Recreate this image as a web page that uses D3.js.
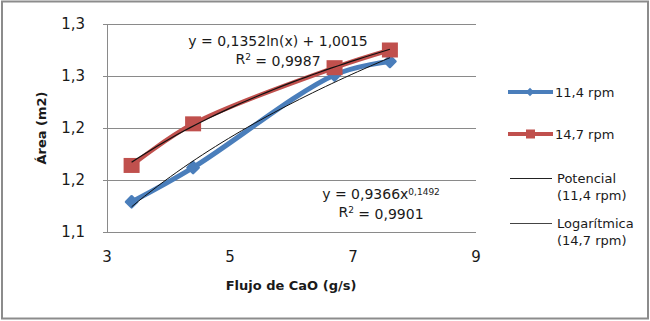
<!DOCTYPE html>
<html>
<head>
<meta charset="utf-8">
<script src="https://cdn.jsdelivr.net/npm/d3@7"></script>
<style>
  body { margin: 0; background: #fff; }
  text { font-family: "DejaVu Sans", sans-serif; fill: #1a1a1a; }
</style>
</head>
<body>
<svg width="650" height="321"></svg>
<script>
// data
let flujo = [3.4, 4.4, 6.7, 7.6];
let area114 = [1.129, 1.162, 1.251, 1.264];
let area147 = [1.164, 1.204, 1.258, 1.275];

let yTicks = [1.1, 1.15, 1.2, 1.25, 1.3];
let yTickLabels = ["1,1", "1,2", "1,2", "1,3", "1,3"];
let xTicks = [3, 5, 7, 9];

// trendline coefficients shown in the chart
let powA = 0.9366, powB = 0.1492;
let logA = 0.1352, logB = 1.0015;

function drawChart() {
  let svg = d3.select("svg");

  let xScale = d3.scaleLinear().domain([3, 9]).range([107, 476]);
  let yScale = d3.scaleLinear().domain([1.1, 1.3]).range([232, 24]);

  // outer frame
  svg.append("rect")
    .attr("x", 2).attr("y", 1.5)
    .attr("width", 646).attr("height", 317)
    .attr("fill", "#fff")
    .attr("stroke", "#8c8c8c")
    .attr("stroke-width", 2);

  // gridlines
  svg.selectAll("line.grid")
    .data(yTicks)
    .join("line")
    .attr("class", "grid")
    .attr("x1", 103).attr("x2", 476)
    .attr("y1", d => Math.round(yScale(d)) + 0.5)
    .attr("y2", d => Math.round(yScale(d)) + 0.5)
    .attr("stroke", "#8a8a8a");

  // axis lines
  svg.append("line")
    .attr("x1", 107.5).attr("x2", 107.5)
    .attr("y1", yScale(1.3)).attr("y2", yScale(1.1) + 0.5)
    .attr("stroke", "#8a8a8a");

  svg.selectAll("text.ylab")
    .data(yTicks)
    .join("text")
    .attr("class", "ylab")
    .attr("x", 85)
    .attr("y", d => yScale(d))
    .attr("dy", "0.36em")
    .attr("text-anchor", "end")
    .style("font-size", "15px")
    .text((d, i) => yTickLabels[i]);

  svg.selectAll("text.xlab")
    .data(xTicks)
    .join("text")
    .attr("class", "xlab")
    .attr("x", d => xScale(d))
    .attr("y", 257)
    .attr("dy", "0.36em")
    .attr("text-anchor", "middle")
    .style("font-size", "15px")
    .text(d => d);

  // axis titles
  svg.append("text")
    .attr("x", 291).attr("y", 285)
    .attr("dy", "0.36em")
    .attr("text-anchor", "middle")
    .style("font-size", "13px")
    .style("font-weight", "bold")
    .text("Flujo de CaO (g/s)");

  svg.append("text")
    .attr("transform", "translate(41,128) rotate(-90)")
    .attr("dy", "0.36em")
    .attr("text-anchor", "middle")
    .style("font-size", "13px")
    .style("font-weight", "bold")
    .text("Área (m2)");

  let smooth = d3.line()
    .x(d => xScale(d[0]))
    .y(d => yScale(d[1]))
    .curve(d3.curveCatmullRom.alpha(0.5));

  let blue = "#4a7ebb", red = "#c0504d";
  let pts114 = flujo.map((f, i) => [f, area114[i]]);
  let pts147 = flujo.map((f, i) => [f, area147[i]]);

  // series 11,4 rpm
  svg.append("path")
    .attr("d", smooth(pts114))
    .attr("fill", "none")
    .attr("stroke", blue)
    .attr("stroke-width", 5)
    .attr("stroke-linejoin", "round");

  svg.selectAll("path.diam")
    .data(pts114)
    .join("path")
    .attr("class", "diam")
    .attr("d", d3.symbol(d3.symbolDiamond2, 80))
    .attr("transform", d => `translate(${xScale(d[0])},${yScale(d[1])})`)
    .attr("fill", blue)
    .attr("stroke", blue)
    .attr("stroke-width", 2.5)
    .attr("stroke-linejoin", "round");

  // series 14,7 rpm
  svg.append("path")
    .attr("d", smooth(pts147))
    .attr("fill", "none")
    .attr("stroke", red)
    .attr("stroke-width", 4.5)
    .attr("stroke-linejoin", "round");

  svg.selectAll("rect.sq")
    .data(pts147)
    .join("rect")
    .attr("class", "sq")
    .attr("x", d => xScale(d[0]) - 8)
    .attr("y", d => yScale(d[1]) - 7.5)
    .attr("width", 16)
    .attr("height", 15)
    .attr("fill", red);

  // trendlines
  let xs = d3.range(0, 41).map(i => flujo[0] + (flujo[3] - flujo[0]) * i / 40);
  let trend = d3.line().x(d => xScale(d[0])).y(d => yScale(d[1]));

  svg.append("path")
    .attr("d", trend(xs.map(x => [x, powA * Math.pow(x, powB)])))
    .attr("fill", "none")
    .attr("stroke", "#111")
    .attr("stroke-width", 1);

  svg.append("path")
    .attr("d", trend(xs.map(x => [x, logA * Math.log(x) + logB])))
    .attr("fill", "none")
    .attr("stroke", "#111")
    .attr("stroke-width", 1.2);

  // equations
  svg.append("text")
    .attr("x", 278).attr("y", 41)
    .attr("dy", "0.36em")
    .attr("text-anchor", "middle")
    .style("font-size", "14px")
    .text("y = 0,1352ln(x) + 1,0015");

  let r1 = svg.append("text")
    .attr("x", 278).attr("y", 59)
    .attr("dy", "0.36em")
    .attr("text-anchor", "middle")
    .style("font-size", "14px");
  r1.append("tspan").text("R");
  r1.append("tspan").attr("dy", "-0.45em").style("font-size", "9px").text("2");
  r1.append("tspan").attr("dy", "0.45em").text(" = 0,9987");

  let p1 = svg.append("text")
    .attr("x", 381).attr("y", 194)
    .attr("dy", "0.36em")
    .attr("text-anchor", "middle")
    .style("font-size", "14px");
  p1.append("tspan").text("y = 0,9366x");
  p1.append("tspan").attr("dy", "-0.5em").style("font-size", "9px").text("0,1492");

  let r2 = svg.append("text")
    .attr("x", 381).attr("y", 212)
    .attr("dy", "0.36em")
    .attr("text-anchor", "middle")
    .style("font-size", "14px");
  r2.append("tspan").text("R");
  r2.append("tspan").attr("dy", "-0.45em").style("font-size", "9px").text("2");
  r2.append("tspan").attr("dy", "0.45em").text(" = 0,9901");

  // legend
  let legend = svg.append("g").style("font-size", "13px");

  legend.append("line")
    .attr("x1", 508).attr("x2", 553).attr("y1", 92).attr("y2", 92)
    .attr("stroke", blue).attr("stroke-width", 4);
  legend.append("path")
    .attr("d", d3.symbol(d3.symbolDiamond2, 45))
    .attr("transform", "translate(530,92)")
    .attr("fill", blue);
  legend.append("text").attr("x", 555).attr("y", 92).attr("dy", "0.36em").text("11,4 rpm");

  legend.append("line")
    .attr("x1", 508).attr("x2", 553).attr("y1", 134).attr("y2", 134)
    .attr("stroke", red).attr("stroke-width", 4);
  legend.append("rect")
    .attr("x", 526).attr("y", 129.5).attr("width", 9).attr("height", 9)
    .attr("fill", red);
  legend.append("text").attr("x", 555).attr("y", 134).attr("dy", "0.36em").text("14,7 rpm");

  legend.append("line")
    .attr("x1", 510).attr("x2", 552).attr("y1", 178.5).attr("y2", 178.5)
    .attr("stroke", "#222").attr("stroke-width", 1);
  legend.append("text").attr("x", 557).attr("y", 178).attr("dy", "0.36em").text("Potencial");
  legend.append("text").attr("x", 557).attr("y", 195).attr("dy", "0.36em").text("(11,4 rpm)");

  legend.append("line")
    .attr("x1", 510).attr("x2", 552).attr("y1", 223.5).attr("y2", 223.5)
    .attr("stroke", "#444").attr("stroke-width", 1.2);
  legend.append("text").attr("x", 557).attr("y", 223).attr("dy", "0.36em").text("Logarítmica");
  legend.append("text").attr("x", 557).attr("y", 240).attr("dy", "0.36em").text("(14,7 rpm)");
}

drawChart();
</script>
</body>
</html>
